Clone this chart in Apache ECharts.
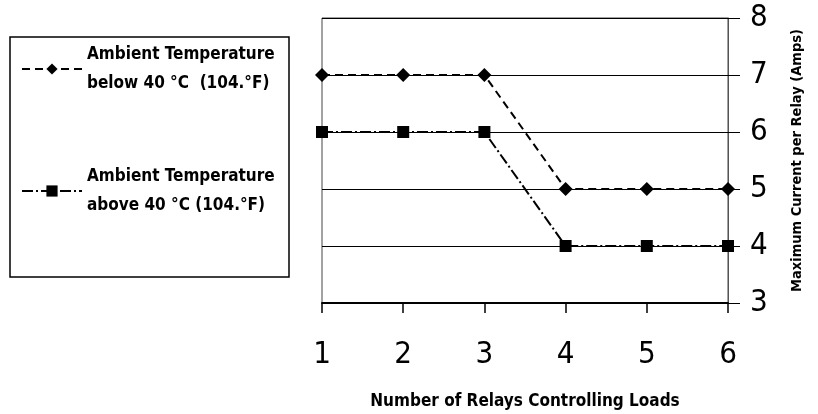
<!DOCTYPE html>
<html>
<head>
<meta charset="utf-8">
<script src="https://cdn.jsdelivr.net/npm/echarts@6/dist/echarts.min.js"></script>
<style>
  html, body { margin: 0; padding: 0; background: #fff; }
  #chart { width: 818px; height: 414px; }
</style>
</head>
<body>
<div id="chart"></div>
<script>
// data
var relays = ['1', '2', '3', '4', '5', '6'];
var below40 = [7, 7, 7, 5, 5, 5];
var above40 = [6, 6, 6, 4, 4, 4];
var seriesNames = [
  'Ambient Temperature\nbelow 40 °C  (104.°F)',
  'Ambient Temperature\nabove 40 °C (104.°F)'
];
var xTitle = 'Number of Relays Controlling Loads';
var yTitle = 'Maximum Current per Relay (Amps)';

var narrow = "'Liberation Sans Narrow', 'DejaVu Sans Condensed', 'Roboto', sans-serif";

var chart = echarts.init(document.getElementById('chart'), null, { renderer: 'canvas' });

chart.setOption({
  animation: false,
  backgroundColor: '#fff',
  grid: {
    left: 322,
    right: 90,
    top: 18,
    bottom: 111,
    outerBoundsMode: 'none',
    show: true,
    borderColor: '#444',
    borderWidth: 1
  },
  graphic: [{
    type: 'rect',
    shape: { x: 10, y: 37, width: 279, height: 240 },
    style: { fill: 'none', stroke: '#000', lineWidth: 1.5 },
    z: 1
  }],
  legend: {
    orient: 'vertical',
    left: 16,
    top: 35,
    itemWidth: 60,
    itemHeight: 14,
    itemGap: 64,
    data: seriesNames,
    textStyle: {
      fontFamily: narrow,
      fontWeight: 'bold',
      fontSize: 17,
      lineHeight: 29,
      color: '#000'
    }
  },
  xAxis: {
    type: 'category',
    data: relays,
    boundaryGap: false,
    name: xTitle,
    nameLocation: 'middle',
    nameGap: 90,
    nameMoveOverlap: false,
    nameTextStyle: {
      fontFamily: narrow,
      fontWeight: 'bold',
      fontSize: 17,
      color: '#000'
    },
    axisLine: { lineStyle: { color: '#000', width: 2 } },
    axisTick: { length: 10, lineStyle: { color: '#000', width: 1.5 } },
    axisLabel: {
      margin: 36,
      fontFamily: narrow,
      fontSize: 31,
      color: '#000'
    },
    splitLine: { show: false }
  },
  yAxis: {
    type: 'value',
    position: 'right',
    min: 3,
    max: 8,
    interval: 1,
    name: yTitle,
    nameLocation: 'middle',
    nameRotate: 90,
    nameGap: 62,
    nameMoveOverlap: false,
    nameTextStyle: {
      fontFamily: narrow,
      fontWeight: 'bold',
      fontSize: 14.5,
      color: '#000'
    },
    axisLine: { show: true, lineStyle: { color: '#555', width: 1 } },
    axisTick: { show: true, length: 12, lineStyle: { color: '#000', width: 1 } },
    axisLabel: {
      margin: 22,
      fontFamily: narrow,
      fontSize: 31,
      color: '#000'
    },
    splitLine: { show: true, lineStyle: { color: '#000', width: 1 } }
  },
  series: [{
    name: seriesNames[0],
    type: 'line',
    data: below40,
    symbol: 'diamond',
    symbolSize: 14,
    itemStyle: { color: '#000' },
    lineStyle: { color: '#000', width: 2, type: [8, 5] },
    z: 3
  }, {
    name: seriesNames[1],
    type: 'line',
    data: above40,
    symbol: 'rect',
    symbolSize: 12,
    itemStyle: { color: '#000' },
    lineStyle: { color: '#000', width: 2, type: [11, 3, 2, 3] },
    z: 3
  }]
});
</script>
</body>
</html>
